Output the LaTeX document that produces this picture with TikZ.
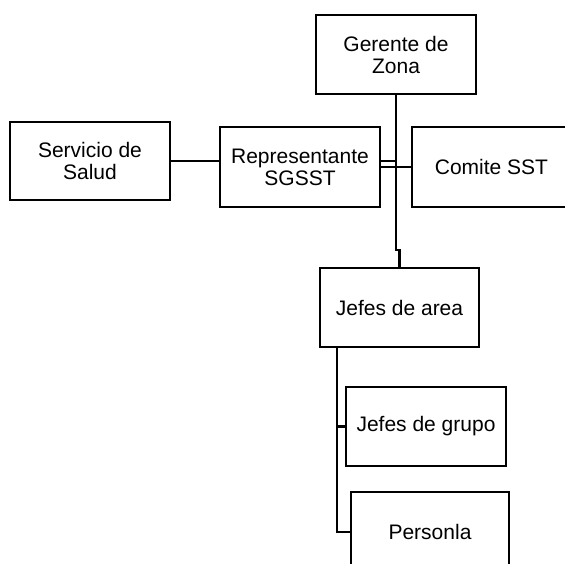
\documentclass[tikz,border=0pt]{standalone}
\usepackage{fontspec}
\setmainfont{Liberation Sans}
\begin{document}
\begin{tikzpicture}[x=1pt,y=-1pt,
  box/.style={draw,line width=2.4pt,inner sep=0pt,align=center,
    font=\fontsize{21}{22}\selectfont},
  link/.style={line width=2.4pt}]
\useasboundingbox (0,0) rectangle (565,564);
\clip (0,0) rectangle (565,564);
\fill[white] (0,0) rectangle (565,564);
\node[box,minimum width=160pt,minimum height=79pt] (ger) at (396,54.5) {Gerente de\\Zona};
\node[box,minimum width=160pt,minimum height=78pt] (serv) at (90,161) {Servicio de\\Salud};
\node[box,minimum width=160pt,minimum height=80pt] (rep) at (300,167) {Representante\\SGSST};
\node[box,minimum width=159pt,minimum height=80pt] (com) at (491.5,167) {Comite SST};
\node[box,minimum width=159pt,minimum height=79pt] (jarea) at (399.5,307.5) {Jefes de area};
\node[box,minimum width=160pt,minimum height=79pt] (jg) at (426,426.5) {Jefes de grupo};
\node[box,minimum width=158pt,minimum height=80pt] (pers) at (430,532) {Personla};
\coordinate (bend) at (396,250);
\coordinate (j1) at (396,161);
\coordinate (a) at (337,347);
\draw[link] (ger.south) -- (bend) -| (jarea.north);
\draw[link] (serv.east) -- (serv.east -| rep.west);
\draw[link] (rep.east |- j1) -- (j1);
\draw[link] (rep.east) -- (com.west);
\draw[link] (a) |- (jg.west);
\draw[link] (a) |- (pers.west);
\end{tikzpicture}
\end{document}
